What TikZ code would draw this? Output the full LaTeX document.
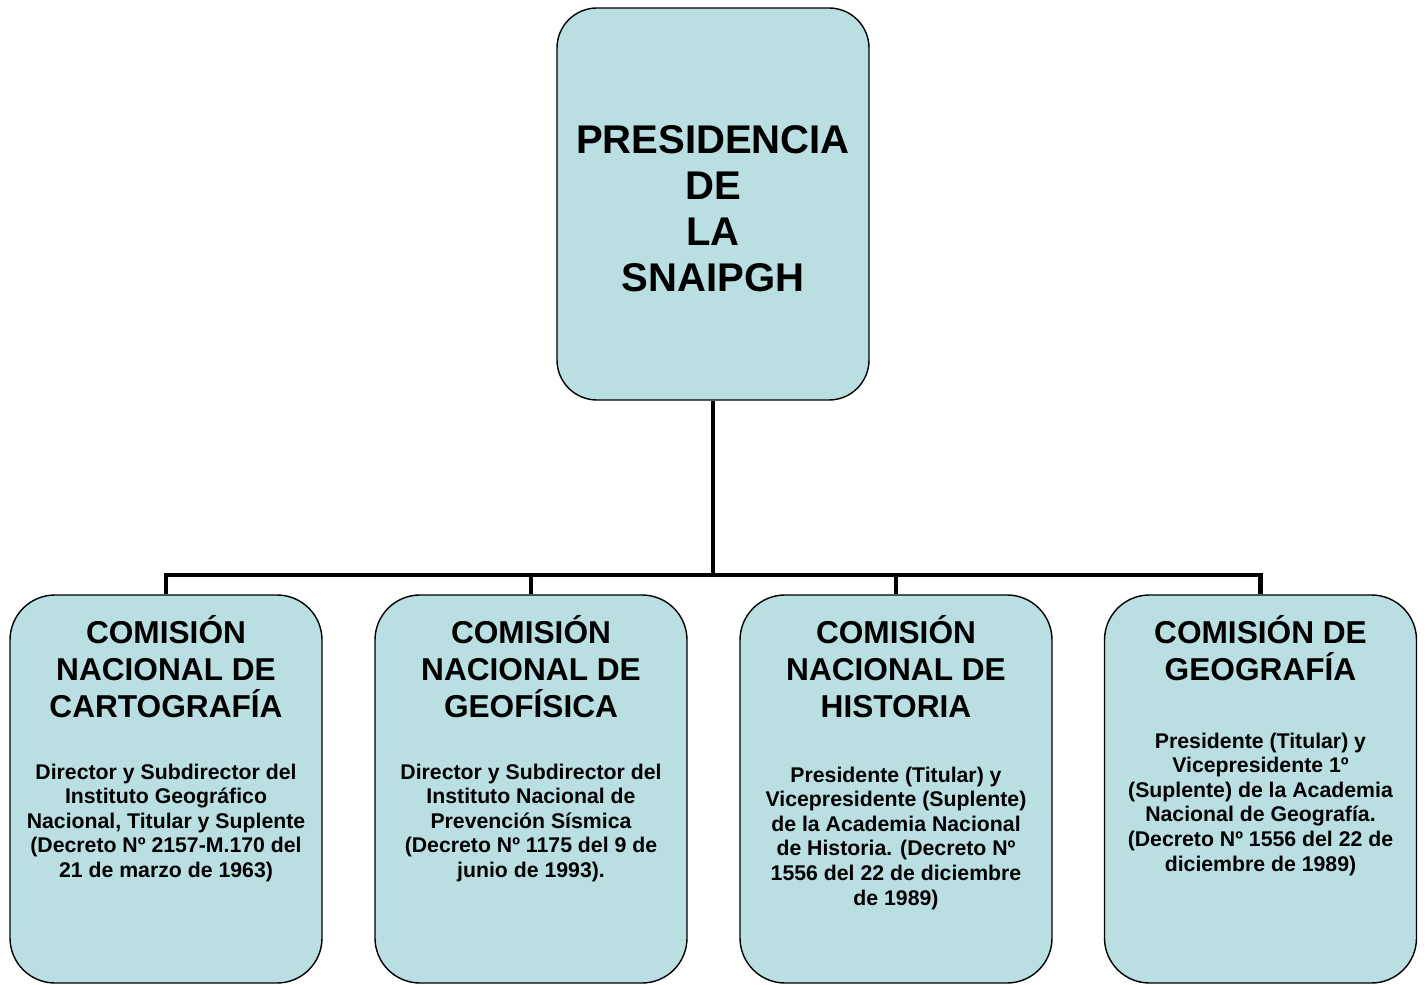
\documentclass[tikz,border=0pt]{standalone}
\usepackage{fontspec}
\setmainfont{Liberation Sans}
\usepackage{xcolor}
\usetikzlibrary{positioning}

\definecolor{boxblue}{RGB}{185,223,227}

\tikzset{
  topbox/.style={draw=black, line width=0.8pt, fill=boxblue, rounded corners=0.8cm,
    minimum width=6.24cm, minimum height=7.84cm},
  toptext/.style={align=center, inner sep=0pt, font=\bfseries\fontsize{22.8}{26.2}\selectfont},
  combox/.style={draw=black, line width=0.8pt, fill=boxblue, rounded corners=0.9cm,
    minimum width=6.24cm, minimum height=7.76cm},
  headtext/.style={align=center, inner sep=0pt, font=\bfseries\fontsize{18}{21}\selectfont},
  bodytext/.style={align=center, inner sep=0pt, font=\bfseries\fontsize{12.1}{14}\selectfont},
  conn/.style={line width=2.6pt}
}

\begin{document}
\begin{tikzpicture}
\useasboundingbox (0,0) rectangle (28.52,19.68);

% Presidencia
\node[topbox] (pres) at (14.26,15.6) {};
\node[toptext, yshift=-1mm] (prestext) at (pres.center) {PRESIDENCIA\\DE\\LA\\SNAIPGH};

% Comisiones
\node[combox] (cart) at (3.32,3.9) {};
\node[combox] (geof) at (10.62,3.9) {};
\node[combox] (hist) at (17.92,3.9) {};
\node[combox] (geog) at (25.21,3.9) {};

% Titles
\node[headtext, below=4.2mm of cart.north] (carttitle) {COMISIÓN\\NACIONAL DE\\CARTOGRAFÍA};
\node[headtext, below=4.2mm of geof.north] (geoftitle) {COMISIÓN\\NACIONAL DE\\GEOFÍSICA};
\node[headtext, below=4.2mm of hist.north] (histtitle) {COMISIÓN\\NACIONAL DE\\HISTORIA};
\node[headtext, below=4.2mm of geog.north] (geogtitle) {COMISIÓN DE\\GEOGRAFÍA};

% Members
\node[bodytext, below=3.38cm of cart.north] (cartbody) {Director y Subdirector del\\Instituto Geográfico\\Nacional, Titular y Suplente\\(Decreto Nº 2157-M.170 del\\21 de marzo de 1963)};
\node[bodytext, below=3.38cm of geof.north] (geofbody) {Director y Subdirector del\\Instituto Nacional de\\Prevención Sísmica\\(Decreto Nº 1175 del 9 de\\junio de 1993).};
\node[bodytext, below=3.44cm of hist.north] (histbody) {Presidente (Titular) y\\Vicepresidente (Suplente)\\de la Academia Nacional\\de Historia. (Decreto Nº\\1556 del 22 de diciembre\\de 1989)};
\node[bodytext, below=2.76cm of geog.north] (geogbody) {Presidente (Titular) y\\Vicepresidente 1º\\(Suplente) de la Academia\\Nacional de Geografía.\\(Decreto Nº 1556 del 22 de\\diciembre de 1989)};

% Connectors
\coordinate (bus) at (14.26,8.18);
\draw[conn] (pres.south) -- (bus);
\draw[conn] (cart.north) |- (bus);
\draw[conn] (geof.north) |- (bus);
\draw[conn] (hist.north) |- (bus);
\draw[conn] (geog.north) |- (bus);
\end{tikzpicture}
\end{document}
